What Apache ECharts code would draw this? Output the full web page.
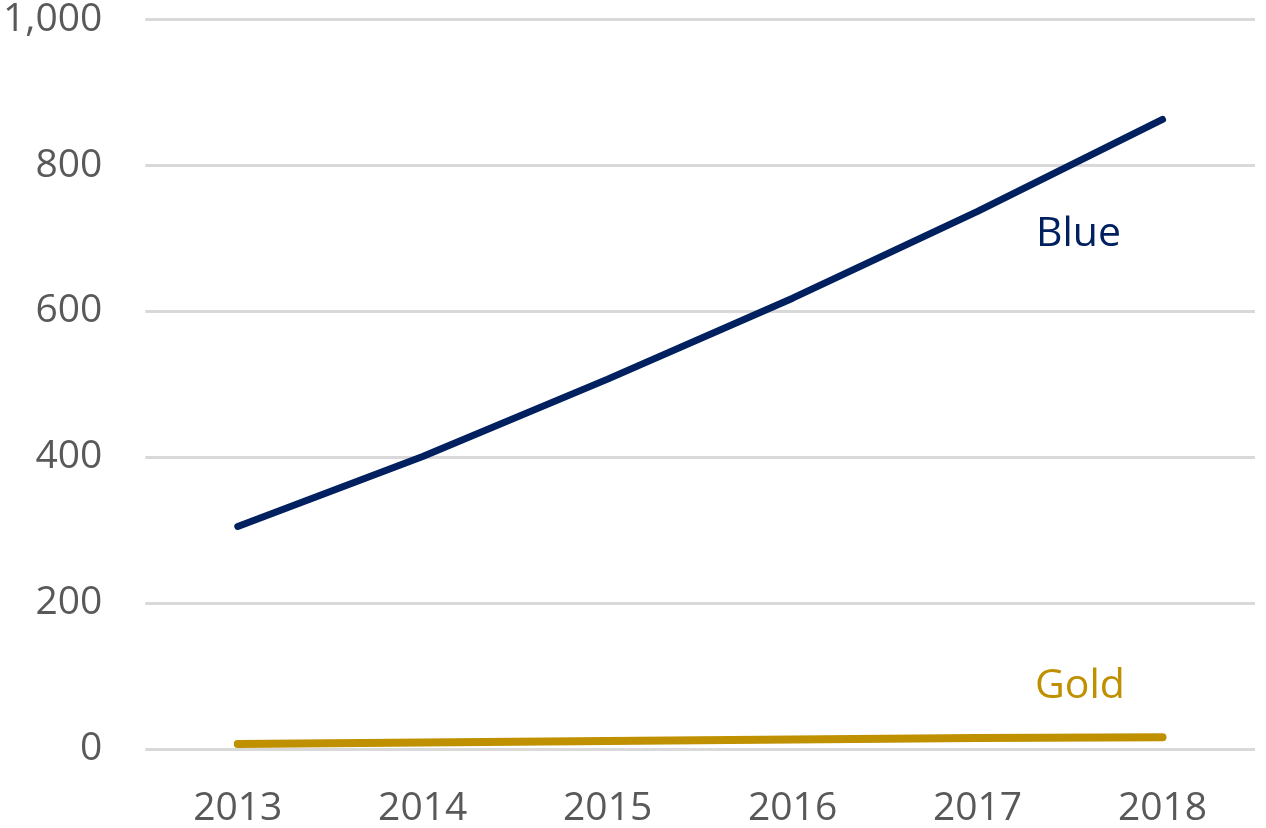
<!DOCTYPE html>
<html>
<head>
<meta charset="utf-8">
<script src="https://cdn.jsdelivr.net/npm/echarts@6/dist/echarts.min.js"></script>
<style>
html,body{margin:0;padding:0;background:#fff;}
#chart{width:1266px;height:828px;}
</style>
</head>
<body>
<div id="chart"></div>
<script>
var categories = ['2013','2014','2015','2016','2017','2018'];
var blueValues = [305, 401, 507, 618, 737, 863];
var goldValues = [7, 9, 11, 13, 15, 16];
var yTicks = [0, 200, 400, 600, 800, 1000];

var FONT = "'Open Sans', sans-serif";
var chart = echarts.init(document.getElementById('chart'));
chart.setOption({
  animation: false,
  grid: {left: 143, right: 11, top: 14, bottom: 79, containLabel: false},
  xAxis: {
    type: 'category',
    data: categories,
    boundaryGap: true,
    axisLine: {show: false},
    axisTick: {show: false},
    axisLabel: {color: '#595959', fontFamily: FONT, fontSize: 39, margin: 40}
  },
  yAxis: {
    type: 'value',
    min: yTicks[0],
    max: yTicks[yTicks.length - 1],
    interval: 200,
    axisLine: {show: false},
    axisTick: {show: false},
    splitLine: {lineStyle: {color: '#d9d9d9', width: 3}},
    axisLabel: {
      color: '#595959', fontFamily: FONT, fontSize: 39, margin: 43,
      formatter: function (v) { return v.toLocaleString('en-US'); }
    }
  },
  series: [
    {
      name: 'Blue', type: 'line', data: blueValues, symbol: 'none',
      lineStyle: {color: '#002060', width: 7, cap: 'round'}
    },
    {
      name: 'Gold', type: 'line', data: goldValues, symbol: 'none',
      lineStyle: {color: '#bf9000', width: 8, cap: 'round'}
    }
  ],
  graphic: [
    {type: 'text', left: 1036, top: 214, style: {text: 'Blue', fill: '#002060', font: "41px 'Open Sans', sans-serif"}},
    {type: 'text', left: 1035, top: 666, style: {text: 'Gold', fill: '#bf9000', font: "41px 'Open Sans', sans-serif"}}
  ]
});
</script>
</body>
</html>
